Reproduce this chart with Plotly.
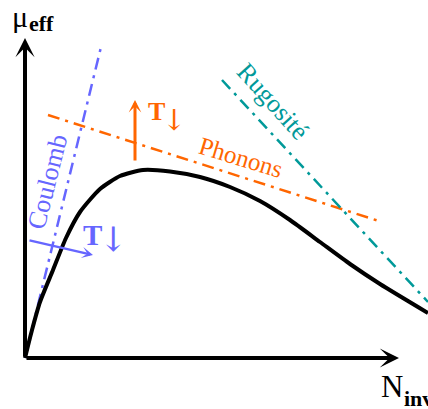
import plotly.graph_objects as go

# schematic mobility curve, units: px from origin of the axes
curve_n = [0, 7, 15, 28, 41, 55, 75, 95, 118, 145, 175, 205, 235, 265, 295, 325, 355, 403]
curve_mu = [0, 28, 56, 88, 120, 146, 169, 182, 188, 186.5, 181, 171, 157, 138, 116, 94, 74, 45]

# limiting mechanisms (dash-dot lines)
coulomb_n = [0, 76]
coulomb_mu = [0, 311]
phonons_n = [23, 357]
phonons_mu = [243, 136]
rugosite_n = [197, 403]
rugosite_mu = [278, 56]

# arrows: (tail_x, tail_y, head_x, head_y)
y_axis_arrow = (0, 0, 0, 320)
x_axis_arrow = (0, 0, 374, 0)
coulomb_arrow = (3, 118, 68, 103)
phonons_arrow = (110, 196, 110, 258)

BLUE = "#6666ff"
ORANGE = "#ff6600"
TEAL = "#009999"
FONT = "Liberation Serif"
DASH = "12px,6px,3px,6px"

fig = go.Figure()

fig.add_trace(go.Scatter(x=coulomb_n, y=coulomb_mu, mode="lines",
                         line=dict(color=BLUE, width=2.5, dash=DASH)))
fig.add_trace(go.Scatter(x=phonons_n, y=phonons_mu, mode="lines",
                         line=dict(color=ORANGE, width=2.5, dash=DASH)))
fig.add_trace(go.Scatter(x=rugosite_n, y=rugosite_mu, mode="lines",
                         line=dict(color=TEAL, width=2.5, dash=DASH)))
fig.add_trace(go.Scatter(x=curve_n, y=curve_mu, mode="lines",
                         line=dict(color="black", width=4, shape="spline", smoothing=0.6)))


def arrow(a, color, width, size):
    tx, ty, hx, hy = a
    return dict(x=hx, y=hy, ax=tx, ay=ty, xref="x", yref="y", axref="x", ayref="y",
                text="", showarrow=True, arrowhead=3, arrowwidth=width,
                arrowsize=size, arrowcolor=color, standoff=0, startstandoff=0)


def label(x, y, text, color, size, angle=0, anchor="center", family=FONT):
    return dict(x=x, y=y, xref="x", yref="y", text=text, showarrow=False,
                textangle=angle, xanchor=anchor, yanchor="middle", borderpad=0,
                font=dict(family=family, size=size, color=color))


annotations = [
    arrow(y_axis_arrow, "black", 4, 0.8),
    arrow(x_axis_arrow, "black", 4, 0.8),
    arrow(coulomb_arrow, BLUE, 2.5, 0.75),
    arrow(phonons_arrow, ORANGE, 3, 0.7),
    label(22, 176, "Coulomb", BLUE, 26, -76),
    label(216, 201, "Phonons", ORANGE, 25, 17),
    label(248, 257, "Rugosité", TEAL, 26, 48),
    label(67, 123, "<b>T</b>", BLUE, 29),
    label(88, 119, "↓", BLUE, 34, family="DejaVu Serif"),
    label(131, 247, "<b>T</b>", ORANGE, 26),
    label(149, 238, "↓", ORANGE, 29, family="DejaVu Serif"),
    label(-5, 342, "μ", "black", 30),
    label(3, 335, "<b>eff</b>", "black", 22, anchor="left"),
    label(367, -28, "N", "black", 31),
    label(378, -40, "<b>inv</b>", "black", 22, anchor="left"),
]

fig.update_layout(
    width=428, height=409,
    margin=dict(l=0, r=0, t=0, b=0),
    paper_bgcolor="white", plot_bgcolor="white",
    showlegend=False,
    xaxis=dict(visible=False, range=[-25, 403], fixedrange=True),
    yaxis=dict(visible=False, range=[-51, 358], fixedrange=True),
    annotations=annotations,
)

fig.write_html("out.html", config={"displayModeBar": False},
               post_script="document.body.style.margin='0';")
